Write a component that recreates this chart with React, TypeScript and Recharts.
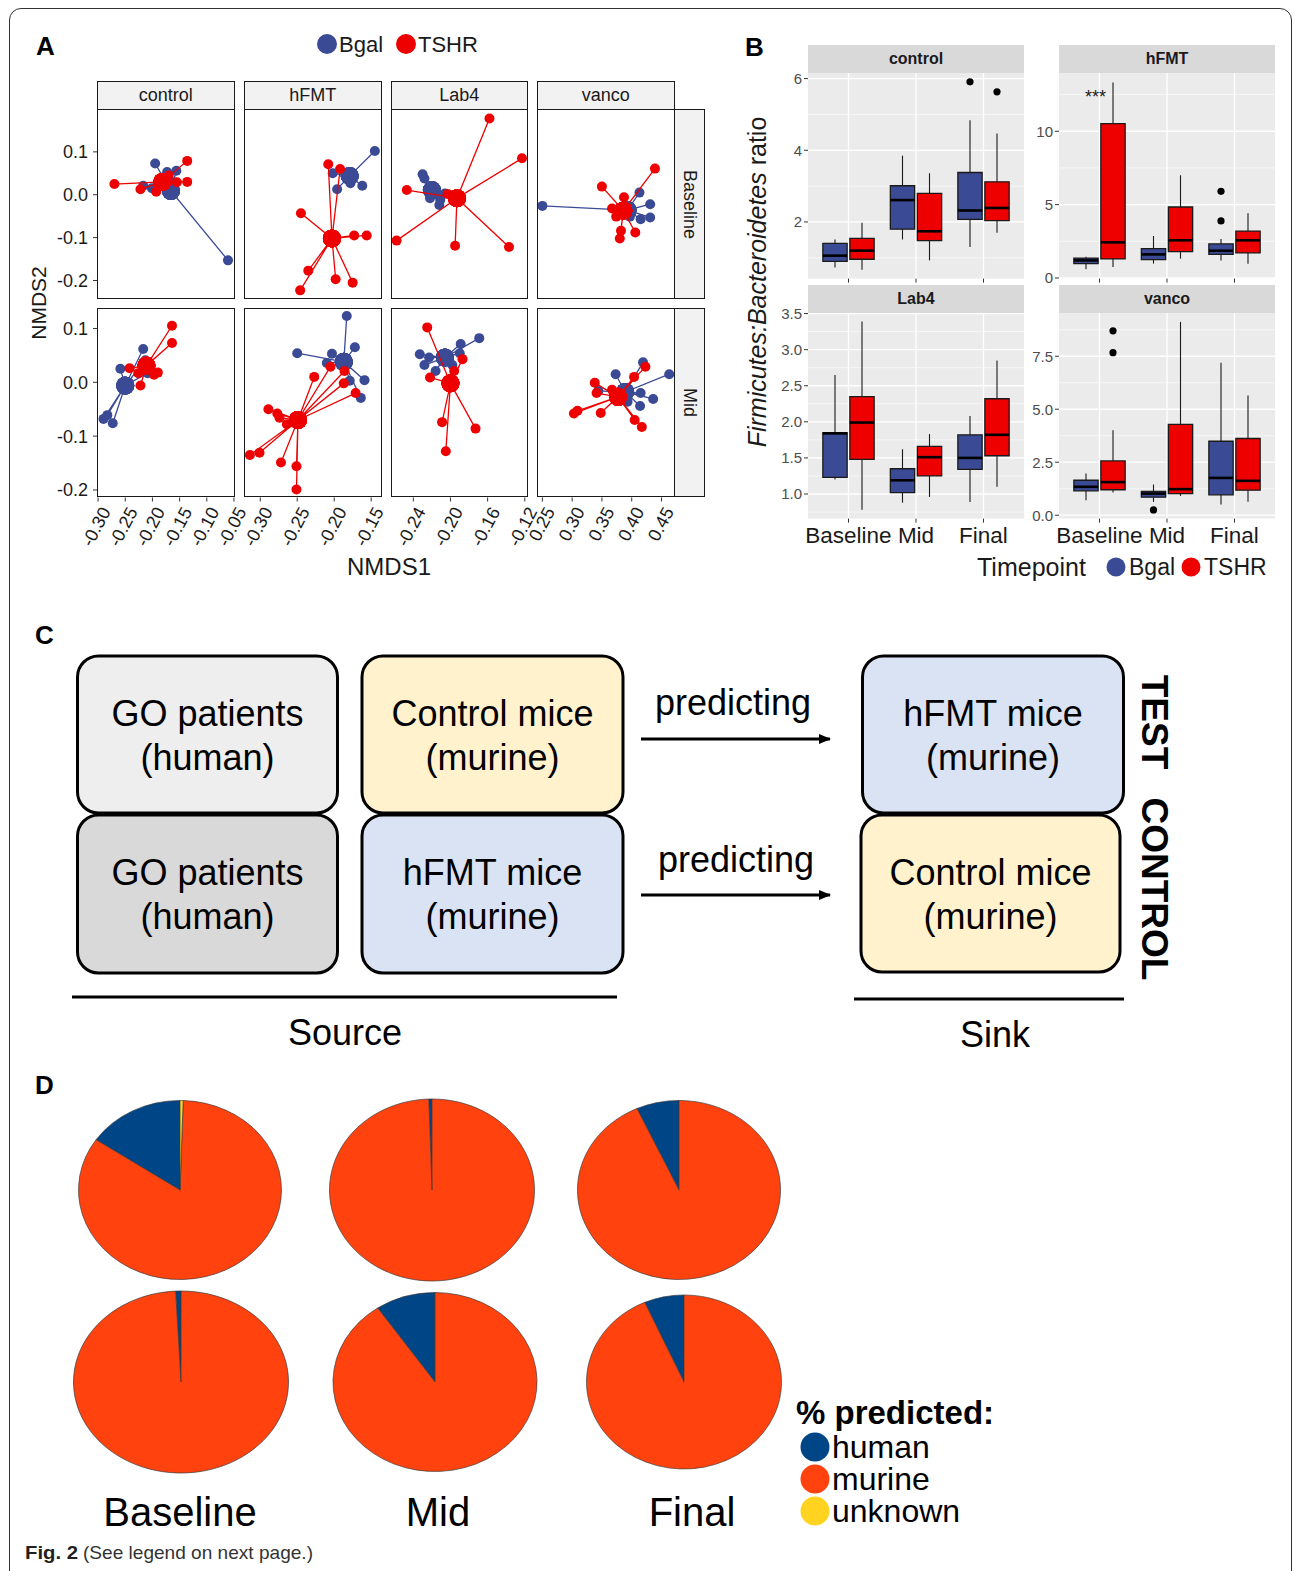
import React from 'react'
import {
  ScatterChart, Scatter, XAxis, YAxis, ComposedChart, CartesianGrid,
  ReferenceArea, ReferenceLine, PieChart, Pie, Cell,
} from 'recharts'

const SANS = "'Liberation Sans', Arial, Helvetica, sans-serif"
const BLUE = '#3b4a95'
const RED = '#ee0000'
const INK = '#1a1a1a'

// ---------- A: NMDS ordination (first pair of each list = group centroid) ----------
const controlBaselineBgal = [[-0.166, 0.009], [-0.195, 0.073], [-0.173, 0.053], [-0.156, 0.056], [-0.217, 0.021], [-0.201, 0.015], [-0.061, -0.153], [-0.180, 0.040], [-0.165, 0.030]]
const controlBaselineTshr = [[-0.182, 0.030], [-0.270, 0.025], [-0.136, 0.079], [-0.136, 0.030], [-0.222, 0.013], [-0.193, 0.007], [-0.155, 0.029], [-0.170, 0.045]]
const hfmtBaselineBgal = [[-0.179, 0.044], [-0.145, 0.102], [-0.202, 0.050], [-0.196, 0.013], [-0.162, 0.021], [-0.178, 0.027], [-0.175, 0.048]]
const hfmtBaselineTshr = [[-0.203, -0.102], [-0.208, 0.071], [-0.192, 0.060], [-0.245, -0.043], [-0.173, -0.095], [-0.156, -0.095], [-0.235, -0.177], [-0.246, -0.223], [-0.198, -0.197], [-0.175, -0.205]]
const lab4BaselineBgal = [[-0.220, 0.011], [-0.230, 0.048], [-0.228, 0.038], [-0.222, -0.008], [-0.212, -0.024], [-0.206, 0.003], [-0.211, -0.012]]
const lab4BaselineTshr = [[-0.193, -0.008], [-0.158, 0.178], [-0.123, 0.085], [-0.247, 0.011], [-0.203, 0.002], [-0.258, -0.107], [-0.195, -0.119], [-0.137, -0.122]]
const vancoBaselineBgal = [[0.393, -0.036], [0.250, -0.026], [0.413, 0.005], [0.431, -0.022], [0.431, -0.053], [0.415, -0.057], [0.397, -0.051]]
const vancoBaselineTshr = [[0.386, -0.037], [0.439, 0.061], [0.350, 0.019], [0.387, -0.006], [0.367, -0.032], [0.374, -0.051], [0.382, -0.084], [0.380, -0.102], [0.406, -0.088]]

const controlMidBgal = [[-0.250, -0.006], [-0.290, -0.068], [-0.283, -0.061], [-0.273, -0.076], [-0.259, 0.025], [-0.217, 0.062], [-0.213, 0.041], [-0.209, 0.017]]
const controlMidTshr = [[-0.211, 0.031], [-0.164, 0.105], [-0.164, 0.073], [-0.242, 0.026], [-0.222, -0.006], [-0.197, 0.014], [-0.190, 0.018], [-0.226, 0.017]]
const hfmtMidBgal = [[-0.187, 0.038], [-0.183, 0.123], [-0.250, 0.054], [-0.203, 0.053], [-0.210, 0.036], [-0.172, 0.065], [-0.159, 0.004], [-0.164, -0.029], [-0.179, 0.003]]
const hfmtMidTshr = [[-0.249, -0.070], [-0.314, -0.135], [-0.301, -0.131], [-0.272, -0.149], [-0.251, -0.156], [-0.251, -0.199], [-0.289, -0.050], [-0.277, -0.058], [-0.274, -0.066], [-0.264, -0.078], [-0.227, 0.010], [-0.205, 0.029], [-0.187, -0.002], [-0.186, 0.021], [-0.171, -0.020]]
const lab4MidBgal = [[-0.206, 0.046], [-0.233, 0.052], [-0.223, 0.046], [-0.228, 0.032], [-0.216, 0.021], [-0.198, 0.032], [-0.189, 0.071], [-0.169, 0.082], [-0.190, 0.054]]
const lab4MidTshr = [[-0.200, -0.002], [-0.225, 0.102], [-0.222, 0.009], [-0.209, -0.074], [-0.205, -0.128], [-0.173, -0.086], [-0.187, 0.043], [-0.196, 0.021]]
const vancoMidBgal = [[0.389, -0.018], [0.373, 0.015], [0.344, -0.016], [0.419, 0.037], [0.463, 0.015], [0.436, -0.031], [0.414, -0.044], [0.393, -0.036], [0.415, -0.020]]
const vancoMidTshr = [[0.377, -0.027], [0.303, -0.058], [0.309, -0.053], [0.348, -0.057], [0.338, -0.001], [0.341, -0.020], [0.404, 0.010], [0.423, 0.029], [0.405, -0.070], [0.417, -0.083], [0.367, -0.014]]

const treatments = ['control', 'hFMT', 'Lab4', 'vanco']
const ordRows = ['Baseline', 'Mid']
const xTicksA = [
  [-0.30, -0.25, -0.20, -0.15, -0.10, -0.05],
  [-0.30, -0.25, -0.20, -0.15],
  [-0.24, -0.20, -0.16, -0.12],
  [0.25, 0.30, 0.35, 0.40, 0.45],
]
const xDomainsA = [[-0.302, -0.049], [-0.322, -0.136], [-0.264, -0.116], [0.241, 0.4735]]
const yTicksA = [-0.2, -0.1, 0.0, 0.1]
const yDomainsA = [[-0.242, 0.2], [-0.214, 0.138]]

// ---------- B: Firmicutes:Bacteroidetes boxplots, [lower whisker, q1, median, q3, upper whisker] ----------
const timepoints = ['Baseline', 'Mid', 'Final']
const controlBoxBgal = [[0.73, 0.90, 1.06, 1.40, 1.51], [1.51, 1.80, 2.61, 3.01, 3.85], [1.30, 2.07, 2.32, 3.38, 4.84]]
const controlBoxTshr = [[0.67, 0.96, 1.20, 1.54, 1.98], [0.93, 1.48, 1.74, 2.80, 3.36], [1.70, 2.04, 2.39, 3.12, 4.47]]
const hfmtBoxBgal = [[0.59, 0.98, 1.20, 1.36, 1.45], [0.98, 1.25, 1.61, 2.00, 2.86], [1.20, 1.61, 1.86, 2.32, 2.66]]
const hfmtBoxTshr = [[0.75, 1.30, 2.43, 10.52, 13.32], [1.32, 1.80, 2.57, 4.84, 7.00], [0.98, 1.71, 2.57, 3.20, 4.41]]
const lab4BoxBgal = [[1.20, 1.23, 1.84, 1.85, 2.65], [0.88, 1.02, 1.19, 1.35, 1.62], [0.89, 1.34, 1.50, 1.82, 2.08]]
const lab4BoxTshr = [[0.78, 1.48, 1.99, 2.35, 3.39], [0.96, 1.25, 1.51, 1.66, 1.83], [1.10, 1.53, 1.82, 2.32, 2.85]]
const vancoBoxBgal = [[0.71, 1.15, 1.34, 1.65, 1.97], [0.63, 0.85, 1.02, 1.12, 1.45], [0.50, 0.96, 1.76, 3.49, 7.19]]
const vancoBoxTshr = [[1.07, 1.20, 1.56, 2.56, 4.01], [0.91, 1.02, 1.23, 4.29, 9.12], [0.63, 1.18, 1.62, 3.62, 5.65]]
// outliers: [timepoint (1..3), value]
const controlOutBgal = [[3, 5.91]]
const controlOutTshr = [[3, 5.63]]
const hfmtOutBgal = [[3, 5.91], [3, 3.89]]
const vancoOutBgal = [[2, 0.25]]
const vancoOutTshr = [[1, 8.70], [1, 7.67]]
const hfmtSignif = [[0.94, 12.62]]

// ---------- D: % predicted source ----------
const sourceNames = ['human', 'murine', 'unknown']
const sourceColors = ['#004586', '#ff420e', '#ffd320']
const testHuman = [15.5, 0.5, 6.8]
const testMurine = [84.0, 99.5, 93.2]
const testUnknown = [0.5, 0, 0]
const controlHuman = [0.8, 9.5, 6.6]
const controlMurine = [99.2, 90.5, 93.4]
const controlUnknown = [0, 0, 0]

// ---------- layout ----------
const A_LEFT = [97, 244, 390.5, 536.5]
const A_W = [137.5, 137.5, 137.5, 138.5]
const A_TOP = [109.3, 307.7]
const A_H = 189.5
const B_LEFT = [808, 1059]
const B_TOP = [72.7, 312.7]
const B_W = 216
const B_H = 205.6
const BOX_OFF = 0.2
const BOX_HW = 0.18

const star = (pts: number[][]) => {
  const [c, ...members] = pts
  return members.flatMap(([x, y]) => [{ x: c[0], y: c[1], big: true }, { x, y, big: false }])
}

const dotShape = (color: string) => (p: any) => {
  const big = p.payload ? p.payload.big : p.big
  return <circle cx={p.cx} cy={p.cy} r={big ? 9 : 5} fill={color} />
}

const AngledTick = (p: any) => (
  <text
    transform={`translate(${p.x + 13},${p.y + 8}) rotate(-62)`}
    textAnchor="end"
    fontSize={18}
    fill={INK}
    fontFamily={SANS}
  >
    {Number(p.payload.value).toFixed(2)}
  </text>
)

function NmdsFacet({ col, row, bgal, tshr }: any) {
  const yw = col === 0 ? 42 : 0
  const xh = row === 1 ? 64 : 0
  const W = A_W[col]
  return (
    <div style={{ position: 'absolute', left: A_LEFT[col] - yw, top: A_TOP[row], width: W + yw, height: A_H + xh }}>
      <ScatterChart width={W + yw} height={A_H + xh} margin={{ top: 0, right: 0, bottom: 0, left: 0 }}>
        <XAxis
          type="number"
          dataKey="x"
          domain={xDomainsA[col]}
          ticks={xTicksA[col]}
          allowDataOverflow
          interval={0}
          hide={row !== 1}
          height={xh}
          axisLine={false}
          tickSize={4}
          tickLine={{ stroke: '#333' }}
          tick={AngledTick}
        />
        <YAxis
          type="number"
          dataKey="y"
          domain={yDomainsA[row]}
          ticks={yTicksA}
          allowDataOverflow
          interval={0}
          hide={col !== 0}
          width={yw}
          axisLine={false}
          tickSize={4}
          tickMargin={5}
          tickLine={{ stroke: '#333' }}
          tick={{ fontSize: 18, fill: INK, fontFamily: SANS }}
          tickFormatter={(v: number) => v.toFixed(1)}
        />
        <Scatter data={star(bgal)} line={{ stroke: BLUE, strokeWidth: 1.3 }} shape={dotShape(BLUE)} isAnimationActive={false} />
        <Scatter data={star(tshr)} line={{ stroke: RED, strokeWidth: 1.3 }} shape={dotShape(RED)} isAnimationActive={false} />
      </ScatterChart>
      <div style={{ position: 'absolute', left: yw, top: 0, width: W, height: A_H, border: `1.5px solid ${INK}`, boxSizing: 'border-box', pointerEvents: 'none' }} />
    </div>
  )
}

const nmdsFacets = [
  { col: 0, row: 0, bgal: controlBaselineBgal, tshr: controlBaselineTshr },
  { col: 1, row: 0, bgal: hfmtBaselineBgal, tshr: hfmtBaselineTshr },
  { col: 2, row: 0, bgal: lab4BaselineBgal, tshr: lab4BaselineTshr },
  { col: 3, row: 0, bgal: vancoBaselineBgal, tshr: vancoBaselineTshr },
  { col: 0, row: 1, bgal: controlMidBgal, tshr: controlMidTshr },
  { col: 1, row: 1, bgal: hfmtMidBgal, tshr: hfmtMidTshr },
  { col: 2, row: 1, bgal: lab4MidBgal, tshr: lab4MidTshr },
  { col: 3, row: 1, bgal: vancoMidBgal, tshr: vancoMidTshr },
]

const boxFacets = [
  { col: 0, row: 0, name: 'control', domain: [0.42, 6.156], ticks: [2, 4, 6], minor: [1, 3, 5], fmt: (v: number) => String(v), bgal: controlBoxBgal, tshr: controlBoxTshr, outBgal: controlOutBgal, outTshr: controlOutTshr, sig: [] as number[][] },
  { col: 1, row: 0, name: 'hFMT', domain: [-0.04, 13.97], ticks: [0, 5, 10], minor: [2.5, 7.5, 12.5], fmt: (v: number) => String(v), bgal: hfmtBoxBgal, tshr: hfmtBoxTshr, outBgal: hfmtOutBgal, outTshr: [] as number[][], sig: hfmtSignif },
  { col: 0, row: 1, name: 'Lab4', domain: [0.659, 3.508], ticks: [1, 1.5, 2, 2.5, 3, 3.5], minor: [0.75, 1.25, 1.75, 2.25, 2.75, 3.25], fmt: (v: number) => v.toFixed(1), bgal: lab4BoxBgal, tshr: lab4BoxTshr, outBgal: [] as number[][], outTshr: [] as number[][], sig: [] as number[][] },
  { col: 1, row: 1, name: 'vanco', domain: [-0.16, 9.54], ticks: [0, 2.5, 5, 7.5], minor: [1.25, 3.75, 6.25, 8.75], fmt: (v: number) => v.toFixed(1), bgal: vancoBoxBgal, tshr: vancoBoxTshr, outBgal: vancoOutBgal, outTshr: vancoOutTshr, sig: [] as number[][] },
]

function BoxFacet({ f }: any) {
  const yw = 32
  const xh = f.row === 1 ? 40 : 8
  const groups = [
    { key: 'b', stats: f.bgal, off: -BOX_OFF, color: BLUE, out: f.outBgal },
    { key: 't', stats: f.tshr, off: BOX_OFF, color: RED, out: f.outTshr },
  ]
  const areas: any[] = []
  const lines: any[] = []
  const medians: any[] = []
  const outliers: any[] = []
  groups.forEach((g) => {
    g.stats.forEach((s: number[], i: number) => {
      const c = i + 1 + g.off
      const [lo, q1, med, q3, hi] = s
      medians.push({ x: c, y: med })
      lines.push(<ReferenceLine key={`wu${g.key}${i}`} segment={[{ x: c, y: q3 }, { x: c, y: hi }]} stroke={INK} strokeWidth={1.1} />)
      lines.push(<ReferenceLine key={`wl${g.key}${i}`} segment={[{ x: c, y: lo }, { x: c, y: q1 }]} stroke={INK} strokeWidth={1.1} />)
      areas.push(
        <ReferenceArea key={`bx${g.key}${i}`} x1={c - BOX_HW} x2={c + BOX_HW} y1={q1} y2={q3} fill={g.color} fillOpacity={1} stroke={INK} strokeWidth={1.3} />
      )
      lines.push(<ReferenceLine key={`md${g.key}${i}`} segment={[{ x: c - BOX_HW, y: med }, { x: c + BOX_HW, y: med }]} stroke="#000" strokeWidth={2.6} />)
    })
    g.out.forEach(([t, v]: number[]) => outliers.push({ x: t + g.off, y: v }))
  })
  const sig = f.sig.map(([x, y]: number[]) => ({ x, y }))
  return (
    <div style={{ position: 'absolute', left: B_LEFT[f.col] - yw, top: B_TOP[f.row], width: B_W + yw, height: B_H + xh }}>
      <ComposedChart width={B_W + yw} height={B_H + xh} margin={{ top: 0, right: 0, bottom: 0, left: 0 }}>
        <CartesianGrid fill="#ebebeb" fillOpacity={1} stroke="#ffffff" strokeWidth={1.3} horizontalValues={f.ticks} verticalValues={[1, 2, 3]} />
        <CartesianGrid stroke="#ffffff" strokeWidth={0.6} vertical={false} horizontalValues={f.minor} />
        <XAxis
          type="number"
          dataKey="x"
          domain={[0.4, 3.6]}
          ticks={[1, 2, 3]}
          allowDataOverflow
          interval={0}
          height={xh}
          axisLine={false}
          tickSize={4}
          tickMargin={4}
          tickLine={{ stroke: '#333' }}
          tick={{ fontSize: 22.5, fill: INK, fontFamily: SANS }}
          tickFormatter={(v: number) => (f.row === 1 ? timepoints[v - 1] : '')}
        />
        <YAxis
          type="number"
          dataKey="y"
          domain={f.domain}
          ticks={f.ticks}
          allowDataOverflow
          interval={0}
          width={yw}
          axisLine={false}
          tickSize={4}
          tickLine={{ stroke: '#333' }}
          tick={{ fontSize: 15, fill: '#4d4d4d', fontFamily: SANS }}
          tickFormatter={f.fmt}
        />
        {areas}
        {lines}
        <Scatter data={medians} shape={() => <g />} isAnimationActive={false} />
        <Scatter data={outliers} shape={(p: any) => <circle cx={p.cx} cy={p.cy} r={3.6} fill="#000" />} isAnimationActive={false} />
        <Scatter
          data={sig}
          shape={(p: any) => (
            <text x={p.cx} y={p.cy + 10} textAnchor="middle" fontSize={18} fill={INK} fontFamily={SANS}>***</text>
          )}
          isAnimationActive={false}
        />
      </ComposedChart>
      <div style={{ position: 'absolute', left: yw, top: -28, width: B_W, height: 28, background: '#d9d9d9', display: 'flex', alignItems: 'center', justifyContent: 'center', fontFamily: SANS, fontWeight: 'bold', fontSize: 16, color: INK }}>
        {f.name}
      </div>
    </div>
  )
}

const pieLayout = [
  { cx: 180, cy: 1189.5, w: 203, h: 179 },
  { cx: 431.5, cy: 1190, w: 205, h: 182 },
  { cx: 678.5, cy: 1189.5, w: 203, h: 179 },
  { cx: 180.5, cy: 1382, w: 215, h: 182 },
  { cx: 434.5, cy: 1382, w: 204, h: 179 },
  { cx: 683.5, cy: 1382, w: 195, h: 174 },
]

function SourcePie({ values, layout }: any) {
  const data = sourceNames.map((name, i) => ({ name, v: values[i] }))
  return (
    <div style={{ position: 'absolute', left: layout.cx - 100, top: layout.cy - 100, width: 200, height: 200, transform: `scale(${layout.w / 196}, ${layout.h / 196})`, transformOrigin: '100px 100px' }}>
      <PieChart width={200} height={200} margin={{ top: 0, right: 0, bottom: 0, left: 0 }}>
        <Pie data={data} dataKey="v" nameKey="name" cx={100} cy={100} outerRadius={98} startAngle={90} endAngle={450} stroke="#3a3a3a" strokeWidth={0.7} isAnimationActive={false}>
          {data.map((d, i) => <Cell key={d.name} fill={sourceColors[i]} />)}
        </Pie>
      </PieChart>
    </div>
  )
}

function Boxes() {
  const box = (x: number, y: number, w: number, h: number, fill: string, l1: string, l2: string) => (
    <g key={`${x}-${y}`}>
      <rect x={x} y={y} width={w} height={h} rx={21} ry={21} fill={fill} stroke="#000" strokeWidth={3} />
      <text x={x + w / 2} y={y + 70} textAnchor="middle" fontSize={36} fontFamily={SANS} fill="#000">{l1}</text>
      <text x={x + w / 2} y={y + 114} textAnchor="middle" fontSize={36} fontFamily={SANS} fill="#000">{l2}</text>
    </g>
  )
  return (
    <g>
      {box(77.5, 656, 260, 157, '#eeeeee', 'GO patients', '(human)')}
      {box(362, 656, 261, 157, '#fff2cc', 'Control mice', '(murine)')}
      {box(77.5, 815, 260, 158, '#d9d9d9', 'GO patients', '(human)')}
      {box(362, 815, 261, 158, '#dae3f3', 'hFMT mice', '(murine)')}
      {box(862.5, 656, 261, 157, '#dae3f3', 'hFMT mice', '(murine)')}
      {box(861, 815, 259, 157, '#fff2cc', 'Control mice', '(murine)')}
    </g>
  )
}

export default function App() {
  return (
    <div style={{ position: 'relative', width: 1295, height: 1571, overflow: 'hidden', background: '#fff', fontFamily: SANS }}>
      <style>{'body{margin:0} .recharts-wrapper, .recharts-surface{overflow:visible !important}'}</style>
      <div style={{ position: 'absolute', left: 9, top: 8, width: 1283, height: 1640, border: '1.5px solid #333', borderRadius: 12, boxSizing: 'border-box' }} />

      <svg width={1295} height={1571} style={{ position: 'absolute', left: 0, top: 0 }}>
        <defs>
          <marker id="ah" markerUnits="userSpaceOnUse" markerWidth={12} markerHeight={10} refX={11} refY={5} orient="auto">
            <path d="M0,0 L12,5 L0,10 z" fill="#000" />
          </marker>
        </defs>
        {/* panel letters */}
        <g fontFamily={SANS} fontWeight="bold" fontSize={26} fill="#000">
          <text x={36} y={55}>A</text>
          <text x={745} y={56}>B</text>
          <text x={35} y={644}>C</text>
          <text x={35} y={1094}>D</text>
        </g>

        {/* A legend + axis titles */}
        <circle cx={327} cy={44} r={10} fill={BLUE} />
        <text x={339} y={52} fontSize={22} fontFamily={SANS} fill={INK}>Bgal</text>
        <circle cx={406} cy={44} r={10} fill={RED} />
        <text x={418} y={52} fontSize={22} fontFamily={SANS} fill={INK}>TSHR</text>
        <text x={389} y={575} textAnchor="middle" fontSize={24} fontFamily={SANS} fill={INK}>NMDS1</text>
        <text transform="translate(46,303) rotate(-90)" textAnchor="middle" fontSize={21} fontFamily={SANS} fill={INK}>NMDS2</text>

        {/* B axis title + legend */}
        <text transform="translate(766,282) rotate(-90)" textAnchor="middle" fontSize={25} fontFamily={SANS} fill={INK}>
          <tspan fontStyle="italic">Firmicutes:Bacteroidetes</tspan>
          <tspan> ratio</tspan>
        </text>
        <text x={977} y={576} fontSize={25} fontFamily={SANS} fill={INK}>Timepoint</text>
        <circle cx={1116} cy={567} r={9.5} fill={BLUE} />
        <text x={1129} y={575} fontSize={23} fontFamily={SANS} fill={INK}>Bgal</text>
        <circle cx={1191} cy={567} r={9.5} fill={RED} />
        <text x={1204} y={575} fontSize={23} fontFamily={SANS} fill={INK}>TSHR</text>

        {/* C diagram */}
        <Boxes />
        <g fontFamily={SANS} fontSize={36} fill="#000" textAnchor="middle">
          <text x={733} y={715}>predicting</text>
          <text x={736} y={872}>predicting</text>
          <text x={345} y={1045}>Source</text>
          <text x={995} y={1047}>Sink</text>
        </g>
        <line x1={641} y1={739} x2={830} y2={739} stroke="#000" strokeWidth={3} markerEnd="url(#ah)" />
        <line x1={641} y1={895} x2={830} y2={895} stroke="#000" strokeWidth={3} markerEnd="url(#ah)" />
        <line x1={72} y1={997} x2={617} y2={997} stroke="#000" strokeWidth={3} />
        <line x1={854} y1={999} x2={1124} y2={999} stroke="#000" strokeWidth={3} />
        <g fontFamily={SANS} fontSize={37} fontWeight="bold" fill="#000" textAnchor="middle">
          <text transform="translate(1142,722) rotate(90)">TEST</text>
          <text transform="translate(1142,889) rotate(90)">CONTROL</text>
        </g>

        {/* D labels + legend */}
        <g fontFamily={SANS} fontSize={40} fill="#000" textAnchor="middle">
          <text x={180} y={1526}>Baseline</text>
          <text x={438} y={1526}>Mid</text>
          <text x={692} y={1526}>Final</text>
        </g>
        <text x={796} y={1424} fontFamily={SANS} fontSize={33} fontWeight="bold" fill="#000">% predicted:</text>
        {sourceNames.map((n, i) => (
          <g key={n}>
            <circle cx={815} cy={1447 + i * 32} r={14.5} fill={sourceColors[i]} />
            <text x={832} y={1458 + i * 32} fontFamily={SANS} fontSize={32} fill="#000">{n}</text>
          </g>
        ))}

        <text x={25} y={1559} fontFamily={SANS} fontSize={19}>
          <tspan fontWeight="bold" fill="#231f20" textLength={53} lengthAdjust="spacingAndGlyphs">Fig. 2</tspan>
          <tspan fill="#333" dx={5} textLength={230} lengthAdjust="spacingAndGlyphs">(See legend on next page.)</tspan>
        </text>
      </svg>

      {/* A: strips */}
      {treatments.map((t, c) => (
        <div key={t} style={{ position: 'absolute', left: A_LEFT[c], top: 81, width: A_W[c], height: 29, background: '#f2f2f2', border: `1.5px solid ${INK}`, boxSizing: 'border-box', display: 'flex', alignItems: 'center', justifyContent: 'center', fontSize: 18, color: INK }}>
          {t}
        </div>
      ))}
      {ordRows.map((r, i) => (
        <div key={r} style={{ position: 'absolute', left: 674, top: A_TOP[i], width: 31, height: A_H, background: '#f2f2f2', border: `1.5px solid ${INK}`, boxSizing: 'border-box', display: 'flex', alignItems: 'center', justifyContent: 'center', fontSize: 18, color: INK, writingMode: 'vertical-rl' as any }}>
          {r}
        </div>
      ))}
      {nmdsFacets.map((f) => <NmdsFacet key={`${f.col}-${f.row}`} {...f} />)}

      {/* B */}
      {boxFacets.map((f) => <BoxFacet key={f.name} f={f} />)}

      {/* D */}
      <SourcePie values={[testHuman[0], testMurine[0], testUnknown[0]]} layout={pieLayout[0]} />
      <SourcePie values={[testHuman[1], testMurine[1], testUnknown[1]]} layout={pieLayout[1]} />
      <SourcePie values={[testHuman[2], testMurine[2], testUnknown[2]]} layout={pieLayout[2]} />
      <SourcePie values={[controlHuman[0], controlMurine[0], controlUnknown[0]]} layout={pieLayout[3]} />
      <SourcePie values={[controlHuman[1], controlMurine[1], controlUnknown[1]]} layout={pieLayout[4]} />
      <SourcePie values={[controlHuman[2], controlMurine[2], controlUnknown[2]]} layout={pieLayout[5]} />
    </div>
  )
}
